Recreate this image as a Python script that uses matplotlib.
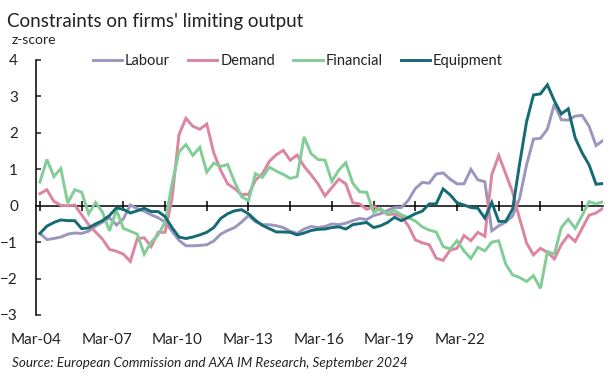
import matplotlib
matplotlib.use("Agg")
import matplotlib.pyplot as plt
import numpy as np
import pandas as pd

plt.rcParams['font.family'] = ['Lato', 'DejaVu Sans']

# Quarterly data, Mar-04 .. Jun-24
periods = pd.period_range('2004Q1', periods=82, freq='Q')

labour = [-0.76, -0.93, -0.90, -0.86, -0.78, -0.75, -0.76, -0.70, -0.56, -0.45,
          -0.33, -0.53, -0.36, 0.02, -0.08, -0.15, -0.25, -0.33, -0.45, -0.70,
          -0.95, -1.10, -1.10, -1.09, -1.07, -0.97, -0.78, -0.68, -0.60, -0.45,
          -0.27, -0.44, -0.52, -0.52, -0.55, -0.60, -0.70, -0.76, -0.64, -0.57,
          -0.60, -0.57, -0.50, -0.52, -0.48, -0.41, -0.35, -0.38, -0.27, -0.22,
          -0.13, -0.05, -0.05, 0.15, 0.47, 0.64, 0.62, 0.87, 0.90, 0.73,
          0.60, 0.60, 1.00, 0.71, 0.66, -0.69, -0.55, -0.45, -0.28, 0.20,
          1.12, 1.83, 1.85, 2.10, 2.79, 2.36, 2.35, 2.46, 2.48, 2.18,
          1.65, 1.79]

demand = [0.33, 0.44, 0.12, 0.01, 0.00, 0.02, -0.25, -0.52, -0.72, -0.92,
          -1.20, -1.25, -1.33, -1.53, -0.90, -0.88, -1.12, -0.73, -0.73, 0.20,
          1.95, 2.40, 2.18, 2.10, 2.24, 1.45, 0.97, 0.60, 0.47, 0.31,
          0.31, 0.70, 0.88, 1.22, 1.40, 1.52, 1.25, 1.39, 1.08, 0.85,
          0.60, 0.27, 0.50, 0.73, 0.60, 0.08, 0.05, -0.10, -0.02, -0.12,
          -0.24, -0.23, -0.30, -0.55, -0.94, -1.02, -1.07, -1.44, -1.50, -1.22,
          -1.17, -0.82, -0.96, -0.73, -0.84, 0.85, 1.38, 0.88, 0.37, -0.35,
          -1.02, -1.35, -1.17, -1.28, -1.46, -1.07, -0.81, -0.98, -0.62, -0.26,
          -0.20, -0.07]

financial = [0.65, 1.27, 0.80, 1.02, 0.07, 0.44, 0.37, -0.22, 0.09, -0.18,
             -0.69, -0.12, -0.62, -0.70, -0.78, -1.33, -1.00, -0.80, -0.45, 0.60,
             1.48, 1.68, 1.38, 1.60, 0.92, 1.17, 1.08, 1.13, 0.65, 0.25,
             0.14, 0.88, 0.78, 1.06, 0.95, 0.86, 0.75, 0.80, 1.89, 1.43,
             1.27, 1.25, 0.67, 0.98, 1.18, 0.62, 0.38, 0.37, -0.18, -0.08,
             -0.23, -0.13, -0.25, -0.33, -0.42, -0.58, -0.67, -0.72, -1.12, -1.19,
             -0.96, -1.24, -1.45, -1.14, -1.24, -1.00, -0.96, -1.60, -1.90, -1.97,
             -2.08, -1.92, -2.27, -1.26, -1.33, -0.60, -0.37, -0.62, -0.27, 0.11,
             0.05, 0.11]

equipment = [-0.76, -0.56, -0.46, -0.39, -0.41, -0.41, -0.63, -0.61, -0.50, -0.41,
             -0.27, -0.06, -0.10, -0.20, -0.14, -0.07, -0.16, -0.16, -0.30, -0.60,
             -0.86, -0.90, -0.86, -0.80, -0.73, -0.60, -0.35, -0.22, -0.14, -0.11,
             -0.22, -0.40, -0.54, -0.63, -0.72, -0.72, -0.73, -0.80, -0.75, -0.68,
             -0.65, -0.64, -0.60, -0.58, -0.64, -0.52, -0.49, -0.46, -0.60, -0.55,
             -0.46, -0.32, -0.41, -0.32, -0.22, -0.15, 0.05, 0.05, 0.46, 0.30,
             0.08, 0.02, -0.05, -0.07, -0.34, 0.09, -0.43, -0.43, -0.09, 1.15,
             2.30, 3.04, 3.07, 3.32, 2.88, 2.52, 2.66, 1.86, 1.45, 1.12,
             0.59, 0.61]

series_names = ['Labour', 'Demand', 'Financial', 'Equipment']
series_colors = ['#9b96be', '#dc84a0', '#82cd96', '#146b74']
x_labels = ['Mar-04', 'Mar-07', 'Mar-10', 'Mar-13', 'Mar-16', 'Mar-19', 'Mar-22']
y_ticks = [-3, -2, -1, 0, 1, 2, 3, 4]

x = np.arange(len(periods))

fig = plt.figure(figsize=(6.15, 3.79), dpi=100)
W, H = 615, 379
ax = fig.add_axes([36 / W, 1 - 315 / H, 567 / W, 255 / H])

for vals, name, col in zip([labour, demand, financial, equipment], series_names, series_colors):
    ax.plot(x, vals, color=col, lw=2.1, label=name, solid_joinstyle='miter')

ax.set_xlim(0, len(x) - 1)
ax.set_ylim(-3, 4)

for s in ['top', 'right', 'bottom']:
    ax.spines[s].set_visible(False)
ax.spines['left'].set_linewidth(1.1)
ax.spines['left'].set_color('black')

ax.set_yticks(y_ticks)
ax.tick_params(axis='y', direction='in', length=3.5, width=1.1, pad=13,
               labelsize=11, colors='#222222')

# x labels (placed as in the reference, below the plot)
label_pos = -0.57 + 10.17 * np.arange(len(x_labels))
ax.set_xticks(label_pos)
ax.set_xticklabels(x_labels)
ax.tick_params(axis='x', length=0, pad=13, labelsize=11, colors='#222222')

# zero line with tick marks every 6 quarters
sec = ax.secondary_xaxis(3 / 7)
sec.spines['bottom'].set_linewidth(1.1)
sec.set_xticks(np.arange(0, len(x), 6))
sec.set_xticklabels([])
sec.tick_params(direction='inout', length=7, width=1.1)

leg = ax.legend(ncol=4, loc='center left', bbox_to_anchor=((93 - 36) / 567, (315 - 61) / 255),
                frameon=False, fontsize=10.5, handlelength=2.0, handletextpad=0.2,
                columnspacing=1.25, borderaxespad=0, borderpad=0)
for t in leg.get_texts():
    t.set_color('#222222')

fig.text(7 / W, 1 - 27 / H, "Constraints on firms' limiting output", fontsize=13.5,
         va='baseline', ha='left', color='#222222')
fig.text(12 / W, 1 - 44 / H, 'z-score', fontsize=10, va='baseline', ha='left', color='#222222')
fig.text(12 / W, 1 - 367 / H, 'Source: European Commission and AXA IM Research, September 2024',
         fontsize=9.7, style='italic', va='baseline', ha='left', color='#222222')

fig.savefig('out.png', dpi=100)
